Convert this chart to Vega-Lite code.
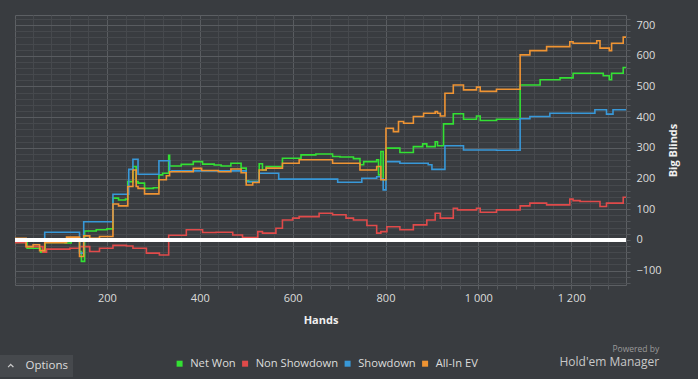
{
  "$schema": "https://vega.github.io/schema/vega-lite/v6.json",
  "autosize": "none",
  "width": 611,
  "height": 270,
  "padding": {"left": 15, "top": 15, "right": 72, "bottom": 94},
  "background": "#393c40",
  "config": {
    "view": {"stroke": "#5c5f63", "strokeWidth": 1, "fill": "#393c40"},
    "font": "Open Sans",
    "axis": {"domain": false, "labelFont": "Open Sans", "titleFont": "Open Sans"}
  },
  "title": {
    "text": "Powered by",
    "subtitle": "Hold'em Manager",
    "orient": "bottom",
    "anchor": "end",
    "offset": -32,
    "dx": -19,
    "font": "Open Sans",
    "fontSize": 8.5,
    "fontWeight": "normal",
    "color": "#9a9a9a",
    "subtitleFont": "Open Sans",
    "subtitleFontSize": 12,
    "subtitleColor": "#c8c8c8",
    "subtitlePadding": 3
  },
  "data": {
    "values": [
      {"series": "Net Won", "hand": 2, "bb": -8},
      {"series": "Net Won", "hand": 28, "bb": -27},
      {"series": "Net Won", "hand": 57, "bb": -40},
      {"series": "Net Won", "hand": 67, "bb": -8},
      {"series": "Net Won", "hand": 110, "bb": -10},
      {"series": "Net Won", "hand": 123, "bb": 2},
      {"series": "Net Won", "hand": 141, "bb": -38},
      {"series": "Net Won", "hand": 145, "bb": -70},
      {"series": "Net Won", "hand": 152, "bb": 29},
      {"series": "Net Won", "hand": 177, "bb": 33},
      {"series": "Net Won", "hand": 200, "bb": 36},
      {"series": "Net Won", "hand": 213, "bb": 136},
      {"series": "Net Won", "hand": 225, "bb": 130},
      {"series": "Net Won", "hand": 240, "bb": 133},
      {"series": "Net Won", "hand": 245, "bb": 190},
      {"series": "Net Won", "hand": 256, "bb": 239},
      {"series": "Net Won", "hand": 263, "bb": 190},
      {"series": "Net Won", "hand": 267, "bb": 185},
      {"series": "Net Won", "hand": 281, "bb": 168},
      {"series": "Net Won", "hand": 300, "bb": 170},
      {"series": "Net Won", "hand": 312, "bb": 212},
      {"series": "Net Won", "hand": 320, "bb": 217},
      {"series": "Net Won", "hand": 333, "bb": 276},
      {"series": "Net Won", "hand": 335, "bb": 241},
      {"series": "Net Won", "hand": 360, "bb": 246},
      {"series": "Net Won", "hand": 386, "bb": 255},
      {"series": "Net Won", "hand": 406, "bb": 247},
      {"series": "Net Won", "hand": 431, "bb": 244},
      {"series": "Net Won", "hand": 446, "bb": 241},
      {"series": "Net Won", "hand": 467, "bb": 250},
      {"series": "Net Won", "hand": 489, "bb": 234},
      {"series": "Net Won", "hand": 500, "bb": 193},
      {"series": "Net Won", "hand": 505, "bb": 190},
      {"series": "Net Won", "hand": 528, "bb": 248},
      {"series": "Net Won", "hand": 535, "bb": 228},
      {"series": "Net Won", "hand": 543, "bb": 239},
      {"series": "Net Won", "hand": 578, "bb": 266},
      {"series": "Net Won", "hand": 618, "bb": 277},
      {"series": "Net Won", "hand": 650, "bb": 280},
      {"series": "Net Won", "hand": 686, "bb": 272},
      {"series": "Net Won", "hand": 702, "bb": 270},
      {"series": "Net Won", "hand": 731, "bb": 265},
      {"series": "Net Won", "hand": 745, "bb": 245},
      {"series": "Net Won", "hand": 753, "bb": 255},
      {"series": "Net Won", "hand": 781, "bb": 261},
      {"series": "Net Won", "hand": 785, "bb": 212},
      {"series": "Net Won", "hand": 790, "bb": 288},
      {"series": "Net Won", "hand": 795, "bb": 196},
      {"series": "Net Won", "hand": 801, "bb": 299},
      {"series": "Net Won", "hand": 831, "bb": 285},
      {"series": "Net Won", "hand": 860, "bb": 304},
      {"series": "Net Won", "hand": 880, "bb": 313},
      {"series": "Net Won", "hand": 889, "bb": 304},
      {"series": "Net Won", "hand": 907, "bb": 320},
      {"series": "Net Won", "hand": 912, "bb": 307},
      {"series": "Net Won", "hand": 925, "bb": 378},
      {"series": "Net Won", "hand": 946, "bb": 411},
      {"series": "Net Won", "hand": 968, "bb": 393},
      {"series": "Net Won", "hand": 996, "bb": 404},
      {"series": "Net Won", "hand": 1004, "bb": 389},
      {"series": "Net Won", "hand": 1039, "bb": 393},
      {"series": "Net Won", "hand": 1090, "bb": 505},
      {"series": "Net Won", "hand": 1133, "bb": 522},
      {"series": "Net Won", "hand": 1176, "bb": 528},
      {"series": "Net Won", "hand": 1204, "bb": 543},
      {"series": "Net Won", "hand": 1269, "bb": 535},
      {"series": "Net Won", "hand": 1282, "bb": 522},
      {"series": "Net Won", "hand": 1287, "bb": 543},
      {"series": "Net Won", "hand": 1312, "bb": 562},
      {"series": "Net Won", "hand": 1318, "bb": 562},

      {"series": "Non Showdown", "hand": 2, "bb": -9},
      {"series": "Non Showdown", "hand": 26, "bb": -22},
      {"series": "Non Showdown", "hand": 62, "bb": -40},
      {"series": "Non Showdown", "hand": 70, "bb": -30},
      {"series": "Non Showdown", "hand": 120, "bb": -27},
      {"series": "Non Showdown", "hand": 141, "bb": -22},
      {"series": "Non Showdown", "hand": 163, "bb": -38},
      {"series": "Non Showdown", "hand": 184, "bb": -27},
      {"series": "Non Showdown", "hand": 213, "bb": -18},
      {"series": "Non Showdown", "hand": 242, "bb": -20},
      {"series": "Non Showdown", "hand": 256, "bb": -27},
      {"series": "Non Showdown", "hand": 285, "bb": -43},
      {"series": "Non Showdown", "hand": 313, "bb": -49},
      {"series": "Non Showdown", "hand": 333, "bb": 15},
      {"series": "Non Showdown", "hand": 371, "bb": 33},
      {"series": "Non Showdown", "hand": 406, "bb": 24},
      {"series": "Non Showdown", "hand": 435, "bb": 25},
      {"series": "Non Showdown", "hand": 471, "bb": 16},
      {"series": "Non Showdown", "hand": 492, "bb": 8},
      {"series": "Non Showdown", "hand": 525, "bb": 27},
      {"series": "Non Showdown", "hand": 535, "bb": 22},
      {"series": "Non Showdown", "hand": 564, "bb": 38},
      {"series": "Non Showdown", "hand": 578, "bb": 65},
      {"series": "Non Showdown", "hand": 600, "bb": 71},
      {"series": "Non Showdown", "hand": 614, "bb": 76},
      {"series": "Non Showdown", "hand": 657, "bb": 87},
      {"series": "Non Showdown", "hand": 686, "bb": 82},
      {"series": "Non Showdown", "hand": 715, "bb": 71},
      {"series": "Non Showdown", "hand": 731, "bb": 65},
      {"series": "Non Showdown", "hand": 760, "bb": 47},
      {"series": "Non Showdown", "hand": 781, "bb": 22},
      {"series": "Non Showdown", "hand": 790, "bb": 27},
      {"series": "Non Showdown", "hand": 803, "bb": 43},
      {"series": "Non Showdown", "hand": 831, "bb": 33},
      {"series": "Non Showdown", "hand": 860, "bb": 49},
      {"series": "Non Showdown", "hand": 889, "bb": 65},
      {"series": "Non Showdown", "hand": 907, "bb": 87},
      {"series": "Non Showdown", "hand": 918, "bb": 71},
      {"series": "Non Showdown", "hand": 946, "bb": 103},
      {"series": "Non Showdown", "hand": 955, "bb": 98},
      {"series": "Non Showdown", "hand": 996, "bb": 103},
      {"series": "Non Showdown", "hand": 1004, "bb": 90},
      {"series": "Non Showdown", "hand": 1039, "bb": 98},
      {"series": "Non Showdown", "hand": 1090, "bb": 111},
      {"series": "Non Showdown", "hand": 1111, "bb": 120},
      {"series": "Non Showdown", "hand": 1147, "bb": 114},
      {"series": "Non Showdown", "hand": 1197, "bb": 133},
      {"series": "Non Showdown", "hand": 1204, "bb": 128},
      {"series": "Non Showdown", "hand": 1219, "bb": 125},
      {"series": "Non Showdown", "hand": 1262, "bb": 109},
      {"series": "Non Showdown", "hand": 1276, "bb": 120},
      {"series": "Non Showdown", "hand": 1312, "bb": 139},
      {"series": "Non Showdown", "hand": 1318, "bb": 139},

      {"series": "Showdown", "hand": 2, "bb": -2},
      {"series": "Showdown", "hand": 41, "bb": 2},
      {"series": "Showdown", "hand": 66, "bb": 25},
      {"series": "Showdown", "hand": 141, "bb": -43},
      {"series": "Showdown", "hand": 150, "bb": 59},
      {"series": "Showdown", "hand": 213, "bb": 149},
      {"series": "Showdown", "hand": 247, "bb": 230},
      {"series": "Showdown", "hand": 256, "bb": 263},
      {"series": "Showdown", "hand": 267, "bb": 214},
      {"series": "Showdown", "hand": 312, "bb": 258},
      {"series": "Showdown", "hand": 335, "bb": 223},
      {"series": "Showdown", "hand": 340, "bb": 225},
      {"series": "Showdown", "hand": 500, "bb": 190},
      {"series": "Showdown", "hand": 528, "bb": 217},
      {"series": "Showdown", "hand": 570, "bb": 198},
      {"series": "Showdown", "hand": 697, "bb": 188},
      {"series": "Showdown", "hand": 749, "bb": 201},
      {"series": "Showdown", "hand": 781, "bb": 206},
      {"series": "Showdown", "hand": 790, "bb": 199},
      {"series": "Showdown", "hand": 795, "bb": 163},
      {"series": "Showdown", "hand": 801, "bb": 255},
      {"series": "Showdown", "hand": 831, "bb": 250},
      {"series": "Showdown", "hand": 892, "bb": 245},
      {"series": "Showdown", "hand": 900, "bb": 230},
      {"series": "Showdown", "hand": 928, "bb": 307},
      {"series": "Showdown", "hand": 968, "bb": 293},
      {"series": "Showdown", "hand": 1039, "bb": 292},
      {"series": "Showdown", "hand": 1090, "bb": 395},
      {"series": "Showdown", "hand": 1111, "bb": 402},
      {"series": "Showdown", "hand": 1154, "bb": 413},
      {"series": "Showdown", "hand": 1251, "bb": 424},
      {"series": "Showdown", "hand": 1276, "bb": 410},
      {"series": "Showdown", "hand": 1290, "bb": 424},
      {"series": "Showdown", "hand": 1318, "bb": 424},

      {"series": "All-In EV", "hand": 2, "bb": 5},
      {"series": "All-In EV", "hand": 26, "bb": -22},
      {"series": "All-In EV", "hand": 41, "bb": -16},
      {"series": "All-In EV", "hand": 55, "bb": -35},
      {"series": "All-In EV", "hand": 66, "bb": -9},
      {"series": "All-In EV", "hand": 113, "bb": 9},
      {"series": "All-In EV", "hand": 141, "bb": -54},
      {"series": "All-In EV", "hand": 150, "bb": 13},
      {"series": "All-In EV", "hand": 163, "bb": 5},
      {"series": "All-In EV", "hand": 184, "bb": 11},
      {"series": "All-In EV", "hand": 213, "bb": 117},
      {"series": "All-In EV", "hand": 225, "bb": 111},
      {"series": "All-In EV", "hand": 245, "bb": 174},
      {"series": "All-In EV", "hand": 256, "bb": 228},
      {"series": "All-In EV", "hand": 263, "bb": 174},
      {"series": "All-In EV", "hand": 267, "bb": 168},
      {"series": "All-In EV", "hand": 281, "bb": 150},
      {"series": "All-In EV", "hand": 312, "bb": 196},
      {"series": "All-In EV", "hand": 328, "bb": 209},
      {"series": "All-In EV", "hand": 335, "bb": 222},
      {"series": "All-In EV", "hand": 386, "bb": 233},
      {"series": "All-In EV", "hand": 404, "bb": 226},
      {"series": "All-In EV", "hand": 440, "bb": 222},
      {"series": "All-In EV", "hand": 467, "bb": 231},
      {"series": "All-In EV", "hand": 489, "bb": 219},
      {"series": "All-In EV", "hand": 500, "bb": 179},
      {"series": "All-In EV", "hand": 514, "bb": 187},
      {"series": "All-In EV", "hand": 528, "bb": 228},
      {"series": "All-In EV", "hand": 543, "bb": 234},
      {"series": "All-In EV", "hand": 578, "bb": 250},
      {"series": "All-In EV", "hand": 614, "bb": 261},
      {"series": "All-In EV", "hand": 686, "bb": 250},
      {"series": "All-In EV", "hand": 745, "bb": 228},
      {"series": "All-In EV", "hand": 781, "bb": 239},
      {"series": "All-In EV", "hand": 790, "bb": 196},
      {"series": "All-In EV", "hand": 801, "bb": 364},
      {"series": "All-In EV", "hand": 817, "bb": 353},
      {"series": "All-In EV", "hand": 828, "bb": 386},
      {"series": "All-In EV", "hand": 839, "bb": 380},
      {"series": "All-In EV", "hand": 860, "bb": 402},
      {"series": "All-In EV", "hand": 882, "bb": 413},
      {"series": "All-In EV", "hand": 907, "bb": 418},
      {"series": "All-In EV", "hand": 912, "bb": 413},
      {"series": "All-In EV", "hand": 918, "bb": 404},
      {"series": "All-In EV", "hand": 928, "bb": 478},
      {"series": "All-In EV", "hand": 946, "bb": 505},
      {"series": "All-In EV", "hand": 968, "bb": 489},
      {"series": "All-In EV", "hand": 996, "bb": 498},
      {"series": "All-In EV", "hand": 1004, "bb": 484},
      {"series": "All-In EV", "hand": 1039, "bb": 491},
      {"series": "All-In EV", "hand": 1090, "bb": 603},
      {"series": "All-In EV", "hand": 1111, "bb": 617},
      {"series": "All-In EV", "hand": 1147, "bb": 630},
      {"series": "All-In EV", "hand": 1197, "bb": 646},
      {"series": "All-In EV", "hand": 1204, "bb": 641},
      {"series": "All-In EV", "hand": 1255, "bb": 649},
      {"series": "All-In EV", "hand": 1262, "bb": 625},
      {"series": "All-In EV", "hand": 1282, "bb": 617},
      {"series": "All-In EV", "hand": 1287, "bb": 641},
      {"series": "All-In EV", "hand": 1312, "bb": 661},
      {"series": "All-In EV", "hand": 1318, "bb": 661}
    ]
  },
  "resolve": {"axis": {"x": "independent", "y": "independent"}},
  "layer": [
    {
      "mark": {"type": "line", "interpolate": "step-after", "strokeWidth": 1.6, "clip": true},
      "encoding": {
        "x": {
          "field": "hand", "type": "quantitative",
          "scale": {"domain": [2, 1318], "nice": false, "zero": false},
          "axis": {
            "orient": "bottom",
            "values": [200, 400, 600, 800, 1000, 1200],
            "labelExpr": "replace(format(datum.value, ','), ',', ' ')",
            "grid": true, "gridColor": "#595c60", "gridWidth": 1,
            "ticks": true, "tickSize": 4, "tickColor": "#595c60",
            "labelPadding": 3, "labelFontSize": 11, "labelColor": "#dcdcdc",
            "title": "Hands", "titleFontSize": 11, "titleFontWeight": "bold", "titleColor": "#f0f0f0", "titlePadding": 11
          }
        },
        "y": {
          "field": "bb", "type": "quantitative",
          "scale": {"domain": [-147, 733], "nice": false, "zero": false},
          "axis": {
            "orient": "right",
            "values": [-100, 0, 100, 200, 300, 400, 500, 600, 700],
            "grid": true, "gridColor": "#595c60", "gridWidth": 1,
            "ticks": true, "tickSize": 4, "tickColor": "#595c60",
            "labelPadding": 6, "labelFontSize": 11, "labelColor": "#dcdcdc",
            "title": "Big Blinds", "titleFontSize": 11, "titleFontWeight": "bold", "titleColor": "#f0f0f0",
            "titleAngle": 270, "titlePadding": 17
          }
        },
        "color": {
          "field": "series", "type": "nominal",
          "scale": {
            "domain": ["Net Won", "Non Showdown", "Showdown", "All-In EV"],
            "range": ["#33e033", "#e04a4a", "#3898d8", "#ef9433"]
          },
          "legend": {
            "orient": "none", "direction": "horizontal",
            "legendX": 159, "legendY": 343,
            "title": null,
            "symbolType": "square", "symbolSize": 36,
            "labelFont": "Open Sans", "labelFontSize": 11.2, "labelColor": "#dcdcdc",
            "labelOffset": 5, "columnPadding": 3.5,
            "encode": {
              "symbols": {
                "update": {
                  "fill": {"scale": "color", "field": "value"},
                  "stroke": {"value": "transparent"},
                  "strokeWidth": {"value": 0},
                  "opacity": {"value": 1}
                }
              }
            }
          }
        }
      }
    },
    {
      "mark": {"type": "rule", "color": "#ffffff", "strokeWidth": 2.6},
      "encoding": {
        "x": {
          "datum": 2, "type": "quantitative",
          "axis": {
            "orient": "bottom",
            "values": [40, 80, 120, 160, 240, 280, 320, 360, 440, 480, 520, 560, 640, 680, 720, 760, 840, 880, 920, 960, 1040, 1080, 1120, 1160, 1240, 1280],
            "grid": true, "gridColor": "#46494d", "gridWidth": 1,
            "ticks": true, "tickSize": 4, "tickColor": "#55585c",
            "labels": false, "title": null
          }
        },
        "x2": {"datum": 1318},
        "y": {
          "datum": 0, "type": "quantitative",
          "axis": {
            "orient": "right",
            "values": [-140, -120, -80, -60, -40, -20, 20, 40, 60, 80, 120, 140, 160, 180, 220, 240, 260, 280, 320, 340, 360, 380, 420, 440, 460, 480, 520, 540, 560, 580, 620, 640, 660, 680, 720],
            "grid": true, "gridColor": "#46494d", "gridWidth": 1,
            "ticks": true, "tickSize": 4, "tickColor": "#55585c",
            "labels": false, "title": null
          }
        },
        "strokeDash": {
          "datum": "Options",
          "scale": {"range": [[1, 0]]},
          "legend": {
            "orient": "none", "legendX": -15, "legendY": 340,
            "title": null,
            "fillColor": "#46494d", "padding": 5,
            "symbolType": "M-1,0.5L0,-0.5L1,0.5", "symbolSize": 28,
            "symbolStrokeColor": "#cccccc", "symbolFillColor": "transparent", "symbolStrokeWidth": 1.2,
            "labelFont": "Open Sans", "labelFontSize": 11.5, "labelColor": "#dcdcdc", "labelOffset": 9
          }
        }
      }
    }
  ]
}
